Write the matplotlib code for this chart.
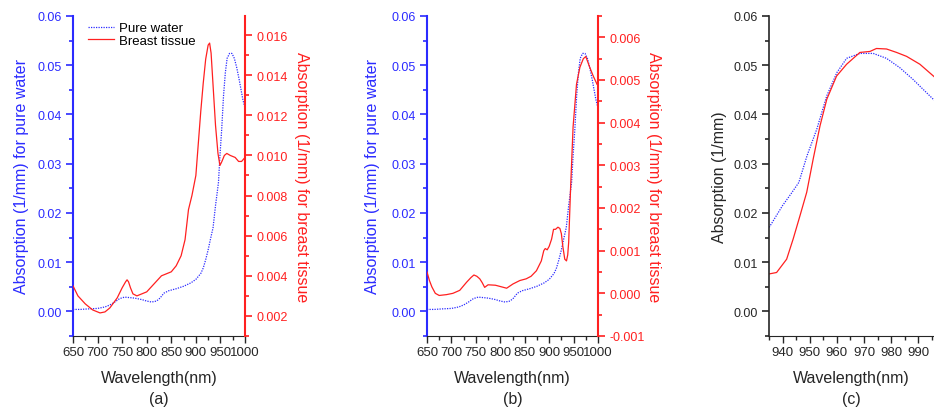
import numpy as np
import matplotlib
matplotlib.use('Agg')
import matplotlib.pyplot as plt
from matplotlib.ticker import MultipleLocator, FormatStrFormatter

plt.rcParams['font.family'] = ['Liberation Sans', 'DejaVu Sans']

# pure water absorption (1/mm)
water_nm = [650, 665, 680, 700, 715, 725, 735, 745, 755, 765, 775, 790, 800, 810, 820,
            827, 835, 845, 860, 875, 890, 900, 910, 915, 920, 925, 930, 935, 940, 943,
            946, 949, 952.6, 956.3, 960, 963.6, 968.5, 973.4, 978.3, 983.2, 988.1, 995.5, 1000]
water_abs = [0.0004, 0.0004, 0.0005, 0.0006, 0.0009, 0.0013, 0.0019, 0.0026, 0.0029, 0.0028,
             0.0027, 0.0024, 0.0021, 0.0019, 0.0021, 0.0027, 0.0037, 0.0042, 0.0046, 0.0051,
             0.0058, 0.0065, 0.0077, 0.0088, 0.0105, 0.0125, 0.0148, 0.0170, 0.0215, 0.0238,
             0.0262, 0.0316, 0.0370, 0.0438, 0.0485, 0.0514, 0.0524, 0.0524, 0.0514, 0.0495,
             0.0471, 0.0431, 0.0413]

# breast tissue, panel (a)
tissue_a_nm = [650, 660, 675, 690, 705, 715, 725, 740, 750, 757, 760, 763, 767, 772, 780,
               790, 800, 815, 830, 840, 850, 860, 870, 878, 885, 892, 900, 905, 910, 915,
               920, 925, 928, 931, 935, 940, 945, 949, 953, 958, 963, 970, 980, 987, 993, 1000]
tissue_a = [0.0035, 0.0030, 0.0026, 0.0023, 0.00215, 0.0022, 0.0024, 0.0029, 0.0034, 0.0037,
            0.0038, 0.0037, 0.0034, 0.0031, 0.0030, 0.0031, 0.0032, 0.0036, 0.0040, 0.0041,
            0.0042, 0.0045, 0.0050, 0.0058, 0.0073, 0.0080, 0.0090, 0.0106, 0.0122, 0.0136,
            0.0148, 0.0155, 0.0156, 0.0151, 0.0135, 0.0115, 0.0101, 0.0095, 0.0097, 0.0100,
            0.0101, 0.0100, 0.0099, 0.0097, 0.0097, 0.0099]

# breast tissue, panel (b)
tissue_b_nm = [650, 655, 660, 667, 675, 690, 703, 717, 731, 740, 746, 752, 758, 763, 768,
               775, 790, 800, 813, 826, 840, 853, 863, 874, 884, 889, 892, 896, 900, 905,
               909, 913, 918, 922, 925, 928, 932, 935.5, 938, 940, 944, 949, 956, 963, 970,
               975, 983, 990, 998]
tissue_b = [0.0005, 0.0003, 0.00015, 0.0, -0.00005, -0.00003, 0.0, 0.00007, 0.00026, 0.00037,
            0.00043, 0.0004, 0.00034, 0.00025, 0.00014, 0.0002, 0.00019, 0.00016, 0.00012,
            0.00022, 0.0003, 0.00034, 0.0004, 0.00053, 0.00076, 0.001, 0.00105, 0.00102,
            0.0011, 0.00127, 0.0015, 0.0015, 0.00155, 0.00152, 0.0014, 0.0011, 0.0008,
            0.00076, 0.0009, 0.0012, 0.0025, 0.0039, 0.0049, 0.0053, 0.0055, 0.00555,
            0.0053, 0.0051, 0.0049]

# breast tissue, panel (c) (same scale as water)
tissue_c_nm = [935, 937.8, 941.5, 943.9, 946.4, 948.9, 951.3, 953.8, 956.3, 959.9, 963.6,
               968.5, 972.2, 974.6, 978.3, 982, 985.7, 990.6, 995.8]
tissue_c = [0.0076, 0.0079, 0.0106, 0.0147, 0.0194, 0.0242, 0.031, 0.0377, 0.0431, 0.0478,
            0.0502, 0.0526, 0.0528, 0.0534, 0.0533, 0.0526, 0.0518, 0.0502, 0.0477]

BLUE = '#2b2bff'
RED = '#ff2020'
DARK = '#262626'
TICK = 9
LAB = 11.5

W, H = 934, 410
fig = plt.figure(figsize=(W / 100, H / 100), dpi=100)


def box(l, r, t=17, b=337):
    return [l / W, 1 - b / H, (r - l) / W, (b - t) / H]


def style_x(ax, major, minor):
    ax.xaxis.set_major_locator(MultipleLocator(major))
    ax.xaxis.set_minor_locator(MultipleLocator(minor))
    ax.tick_params(axis='x', which='both', direction='out', colors=DARK, labelsize=TICK + 0.5, pad=2)
    ax.tick_params(axis='x', which='major', length=5, width=1)
    ax.tick_params(axis='x', which='minor', length=3, width=1)


def style_y(ax, color, major, minor, fmt, side='left'):
    ax.yaxis.set_major_locator(MultipleLocator(major))
    ax.yaxis.set_minor_locator(MultipleLocator(minor))
    ax.yaxis.set_major_formatter(FormatStrFormatter(fmt))
    ax.tick_params(axis='y', which='both', direction='out', colors=color, labelsize=TICK, pad=3)
    ax.tick_params(axis='y', which='major', length=5, width=1.2)
    ax.tick_params(axis='y', which='minor', length=3, width=1.2)
    ax.spines[side].set_color(color)
    ax.spines[side].set_linewidth(1.5)


def xlabel(ax, letter):
    ax.set_xlabel('Wavelength(nm)\n' + letter, fontsize=LAB, color=DARK, labelpad=8.5,
                  linespacing=1.55)


def twin_panel(rect, rlim, rmajor, rminor, tissue_nm, tissue, letter, lpad, rpad, legend=False):
    ax = fig.add_axes(rect)
    ax.set_xlim(650, 1000)
    ax.set_ylim(-0.005, 0.06)
    lw, = ax.plot(water_nm, water_abs, color=BLUE, lw=0.9, ls=(0, (1, 1)), label='Pure water')
    for s in ('top', 'right'):
        ax.spines[s].set_visible(False)
    ax.spines['bottom'].set_color(DARK)
    style_x(ax, 50, 25)
    style_y(ax, BLUE, 0.01, 0.005, '%.2f')
    ax.set_ylabel('Absorption (1/mm) for pure water', color=BLUE, fontsize=LAB, labelpad=lpad)
    xlabel(ax, letter)

    ax2 = ax.twinx()
    ax2.set_ylim(*rlim)
    lt, = ax2.plot(tissue_nm, tissue, color=RED, lw=0.9, label='Breast tissue')
    for s in ('top', 'left', 'bottom'):
        ax2.spines[s].set_visible(False)
    style_y(ax2, RED, rmajor, rminor, '%.3f', side='right')
    ax2.set_ylabel('Absorption (1/mm) for breast tissue', color=RED, fontsize=LAB,
                   rotation=270, va='bottom', labelpad=rpad)
    if legend:
        ax.legend(handles=[lw, lt], loc='upper left', bbox_to_anchor=(0.055, 0.998),
                  frameon=False, fontsize=9.5, handlelength=2.0, handletextpad=0.35,
                  borderaxespad=0, labelspacing=0.02)
    return ax


twin_panel(box(73, 245), (0.001, 0.01695), 0.002, 0.001, tissue_a_nm, tissue_a, '(a)',
           6, 5, legend=True)
twin_panel(box(427, 598), (-0.001, 0.0065), 0.001, 0.0005, tissue_b_nm, tissue_b, '(b)',
           8, 1)

# panel (c): zoom on the water peak
axc = fig.add_axes(box(769, 934))
axc.set_xlim(935, 995.8)
axc.set_ylim(-0.005, 0.06)
axc.plot(water_nm, water_abs, color=BLUE, lw=0.9, ls=(0, (1, 1)))
axc.plot(tissue_c_nm, tissue_c, color=RED, lw=0.9)
for s in ('top', 'right'):
    axc.spines[s].set_visible(False)
axc.spines['bottom'].set_color(DARK)
style_x(axc, 10, 5)
style_y(axc, DARK, 0.01, 0.005, '%.2f')
axc.spines['left'].set_linewidth(1.2)
axc.set_ylabel('Absorption (1/mm)', color=DARK, fontsize=LAB, labelpad=5)
xlabel(axc, '(c)')

fig.savefig('out.png', dpi=100)
